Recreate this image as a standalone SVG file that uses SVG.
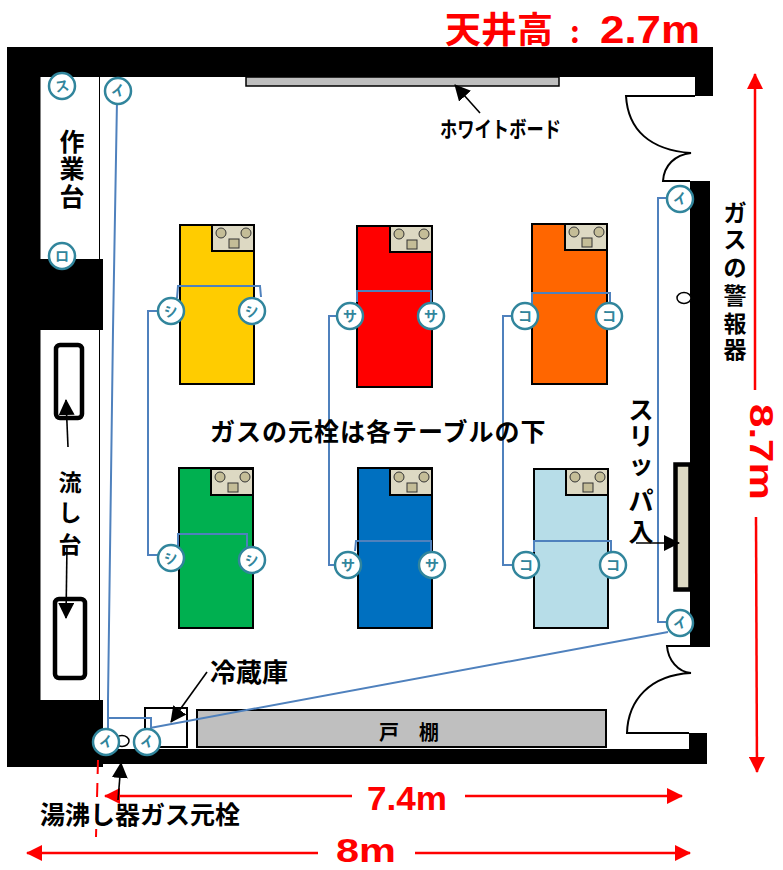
<svg xmlns="http://www.w3.org/2000/svg" xmlns:xlink="http://www.w3.org/1999/xlink" width="783" height="870" viewBox="0 0 783 870">
<style>
text{font-family:"Noto Sans CJK JP","Liberation Sans",sans-serif;font-weight:700;fill:#000}
.red{fill:#f00}
.num{fill:#f00;font-family:"Liberation Sans","Noto Sans CJK JP",sans-serif}
.wall{fill:#000}
.thin{fill:none;stroke:#000;stroke-width:1}
.door{fill:none;stroke:#000;stroke-width:2}
.table{stroke:#000;stroke-width:2}
.pipe{fill:none;stroke:#4f81bd;stroke-width:2}
.valve circle{fill:#fff;stroke:#31859c;stroke-width:2.5}
.valve text{fill:#31859c;font-size:14px;text-anchor:middle}
.dim{stroke:#f00;stroke-width:2.5;fill:none}
.blk{stroke:#000;stroke-width:1.6;fill:none}
</style>
<defs>
<marker id="ar" markerUnits="userSpaceOnUse" markerWidth="16" markerHeight="16" refX="15" refY="8" orient="auto"><path d="M0 0L16 8L0 16Z" fill="#f00"/></marker>
<marker id="ab" markerUnits="userSpaceOnUse" markerWidth="16" markerHeight="16" refX="15" refY="8" orient="auto"><path d="M0 0L16 8L0 16Z" fill="#000"/></marker>
<g id="plate"><rect x="0" y="0" width="42" height="26" fill="#ddd9c3" stroke="#000" stroke-width="2"/><circle cx="9" cy="8" r="5" fill="#c4bd97" stroke="#333" stroke-width="1"/><circle cx="34" cy="8" r="5" fill="#c4bd97" stroke="#333" stroke-width="1"/><rect x="17" y="14" width="10" height="9" fill="#c4bd97" stroke="#333" stroke-width="1"/></g>
</defs>
<g id="room">
<path class="wall" d="M7 47H713V96H695V77H40V259H103V330H40V700H103V749H689V733H707V764H103V767H7Z"/>
<rect class="wall" x="690" y="181" width="20" height="466"/>
<path class="thin" d="M40 77V700M99.500 77V259M99.500 330V700"/>
<path class="door" d="M695 96H626C628 130 650 150 691 153C675 155 664 165 663 181H690"/>
<path class="door" d="M689 733H627C628 700 650 675 691 673C678 672 668 660 667 646H690"/>
</g>
<g id="whiteboard"><rect x="246" y="77" width="313" height="9" fill="#bfbfbf" stroke="#000" stroke-width="1.500"/></g>
<g id="sink-1"><rect x="56" y="345" width="26" height="73" rx="4" fill="#fff" stroke="#000" stroke-width="4.500"/></g>
<g id="sink-2"><rect x="55" y="599" width="30" height="79" rx="4" fill="#fff" stroke="#000" stroke-width="4.500"/></g>
<g id="table-yellow"><rect class="table" x="180" y="225" width="74" height="159" fill="#fc0"/><use xlink:href="#plate" href="#plate" x="212" y="225"/></g>
<g id="table-red"><rect class="table" x="357" y="226" width="75" height="161" fill="#f00"/><use xlink:href="#plate" href="#plate" x="390" y="226"/></g>
<g id="table-orange"><rect class="table" x="532" y="224" width="75" height="160" fill="#f60"/><use xlink:href="#plate" href="#plate" x="565" y="224"/></g>
<g id="table-green"><rect class="table" x="179" y="468" width="74" height="160" fill="#00b050"/><use xlink:href="#plate" href="#plate" x="211" y="469"/></g>
<g id="table-blue"><rect class="table" x="358" y="468" width="74" height="160" fill="#0070c0"/><use xlink:href="#plate" href="#plate" x="390" y="469"/></g>
<g id="table-lightblue"><rect class="table" x="534" y="469" width="74" height="159" fill="#b7dde8"/><use xlink:href="#plate" href="#plate" x="566" y="469"/></g>
<g id="fridge"><rect x="145" y="708" width="42" height="39" fill="#fff" stroke="#000" stroke-width="2"/></g>
<g id="cupboard"><rect x="197" y="710" width="409" height="37" fill="#bfbfbf" stroke="#000" stroke-width="2"/><text x="409" y="740" font-size="20" text-anchor="middle" xml:space="preserve">戸　棚</text></g>
<g id="slipper-rack"><rect x="675.500" y="464.500" width="15" height="125" fill="#ddd9c3" stroke="#000" stroke-width="4.500"/></g>
<ellipse cx="684" cy="298" rx="7" ry="5.500" fill="#fff" stroke="#000" stroke-width="1.500"/>
<ellipse cx="122" cy="741" rx="7" ry="5.500" fill="#fff" stroke="#000" stroke-width="1.500"/>
<g id="connectors">
<path class="pipe" d="M117 100L113 330L108 700V730M107 718H151V730M150 728L668 632"/>
<path class="pipe" d="M680 198H658V622H680"/>
<path class="pipe" d="M160 311H148V555H160M177 298L178 286H260L261 297M178 548V534H247V548"/>
<path class="pipe" d="M340 316H329V565H340M357 302V291H431V303M355 551L356 541H431V552"/>
<path class="pipe" d="M515 316H503V565H515M532 305V293H610V305M534 552V541H611V552"/>
<path class="dim" marker-end="url(#ar)" d="M318 853H27"/>
<path class="dim" marker-end="url(#ar)" d="M415 853H690"/>
<path class="dim" marker-end="url(#ar)" d="M352 796H105"/>
<path class="dim" marker-end="url(#ar)" d="M465 796H682"/>
<path class="dim" marker-end="url(#ar)" d="M755 390V74"/>
<path class="dim" marker-end="url(#ar)" d="M756 517L757 772"/>
<path d="M98 760L96 837" stroke="#f00" stroke-width="2" stroke-dasharray="14 9" fill="none"/>
<path class="blk" marker-end="url(#ab)" d="M480 113L455 85"/>
<path class="blk" marker-end="url(#ab)" d="M207 672L171 722"/>
<path class="blk" marker-end="url(#ab)" d="M68 447L66 400"/>
<path class="blk" marker-end="url(#ab)" d="M67 545L66 618"/>
<path class="blk" marker-end="url(#ab)" d="M636 543H679"/>
<path class="blk" marker-end="url(#ab)" d="M118 800L121 763"/>
</g>
<g id="valves">
<g class="valve" id="v-su"><circle cx="62" cy="86" r="13"/><text x="62" y="91" transform="rotate(-10 62 86)">ス</text></g>
<g class="valve" id="v-ro"><circle cx="62" cy="256" r="13"/><text x="62" y="261">ロ</text></g>
<g class="valve" id="v-i1"><circle cx="118" cy="91" r="13"/><text x="118" y="96" transform="rotate(-15 118 91)">イ</text></g>
<g class="valve" id="v-shi1"><circle cx="171" cy="311" r="13"/><text x="171" y="316" transform="rotate(-15 171 311)">シ</text></g>
<g class="valve" id="v-shi2"><circle cx="252" cy="311" r="13"/><text x="252" y="316" transform="rotate(-15 252 311)">シ</text></g>
<g class="valve" id="v-sa1"><circle cx="350" cy="316" r="13"/><text x="350" y="321">サ</text></g>
<g class="valve" id="v-sa2"><circle cx="431" cy="316" r="13"/><text x="431" y="321">サ</text></g>
<g class="valve" id="v-ko1"><circle cx="525" cy="316" r="13"/><text x="525" y="321">コ</text></g>
<g class="valve" id="v-ko2"><circle cx="609" cy="316" r="13"/><text x="609" y="321">コ</text></g>
<g class="valve" id="v-shi3"><circle cx="171" cy="558" r="13"/><text x="171" y="563" transform="rotate(-15 171 558)">シ</text></g>
<g class="valve" id="v-shi4"><circle cx="252" cy="560" r="13"/><text x="252" y="565" transform="rotate(-15 252 560)">シ</text></g>
<g class="valve" id="v-sa3"><circle cx="348" cy="565" r="13"/><text x="348" y="570">サ</text></g>
<g class="valve" id="v-sa4"><circle cx="432" cy="565" r="13"/><text x="432" y="570">サ</text></g>
<g class="valve" id="v-ko3"><circle cx="526" cy="565" r="13"/><text x="526" y="570">コ</text></g>
<g class="valve" id="v-ko4"><circle cx="613" cy="565" r="13"/><text x="613" y="570">コ</text></g>
<g class="valve" id="v-i2"><circle cx="680" cy="199" r="13"/><text x="680" y="204" transform="rotate(-15 680 199)">イ</text></g>
<g class="valve" id="v-i3"><circle cx="680" cy="623" r="13"/><text x="680" y="628" transform="rotate(-15 680 623)">イ</text></g>
<g class="valve" id="v-i4"><circle cx="106" cy="742" r="13"/><text x="106" y="747" transform="rotate(-15 106 742)">イ</text></g>
<g class="valve" id="v-i5"><circle cx="147" cy="742" r="13"/><text x="147" y="747" transform="rotate(-15 147 742)">イ</text></g>
</g>
<g id="labels">
<text class="red" x="445" y="43" font-size="36">天井高</text>
<text class="red" x="570" y="43" font-size="30" font-weight="400">:</text>
<text class="num" x="600" y="43" font-size="38" textLength="100" lengthAdjust="spacingAndGlyphs">2.7m</text>
<text x="440" y="137" font-size="22" textLength="121" lengthAdjust="spacingAndGlyphs">ホワイトボード</text>
<text font-size="25" text-anchor="middle" x="72 72 72" y="151 178 206">作業台</text>
<text font-size="23" text-anchor="middle" x="70 70 70" y="491 521 553">流し台</text>
<text font-size="25" x="210" y="441" letter-spacing="1">ガスの元栓は各テーブルの下</text>
<text font-size="23" text-anchor="middle" x="735 735 735 735 735 735" y="221 248 276 304 332 358">ガスの警報器</text>
<text font-size="25" text-anchor="middle" x="641 641 641 641 641" y="419 445 474 510 541">スリッパ入</text>
<text font-size="26" x="210" y="682">冷蔵庫</text>
<text font-size="25" x="40" y="824">湯沸し器ガス元栓</text>
<text class="num" font-size="34" x="367" y="810" textLength="80" lengthAdjust="spacingAndGlyphs">7.4m</text>
<text class="num" font-size="34" x="336" y="862" textLength="60" lengthAdjust="spacingAndGlyphs">8m</text>
<text class="num" font-size="34" x="0" y="0" transform="translate(750 404) rotate(90)" textLength="96" lengthAdjust="spacingAndGlyphs">8.7m</text>
</g>
</svg>
